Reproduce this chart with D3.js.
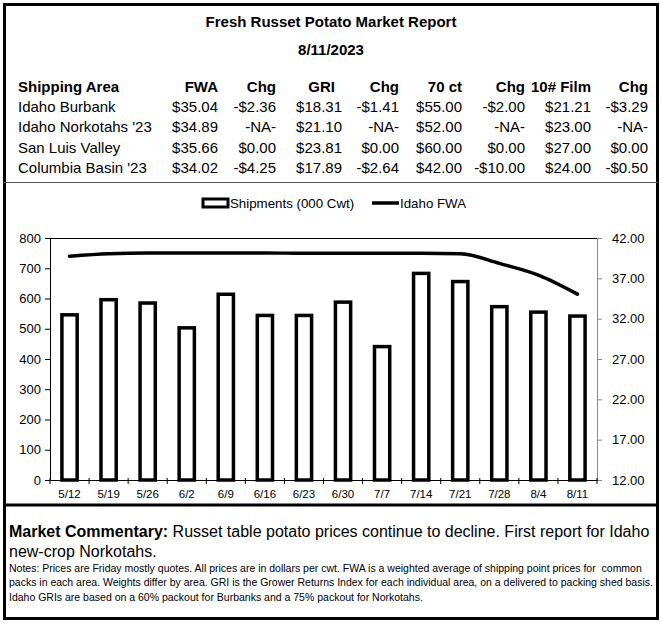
<!DOCTYPE html>
<html>
<head>
<meta charset="utf-8">
<script src="https://cdn.jsdelivr.net/npm/d3@7"></script>
<style>
  body { margin: 0; background: #fff; }
  svg { display: block; font-family: "Liberation Sans", Arial, sans-serif; }
  .notes { white-space: pre; }
</style>
</head>
<body>
<svg id="chart" width="662" height="623"></svg>
<script>
const svg = d3.select("#chart");

// --- table data ---
const headers = ["Shipping Area", "FWA", "Chg", "GRI", "Chg", "70 ct", "Chg", "10# Film", "Chg"];
const areas = ["Idaho Burbank", "Idaho Norkotahs '23", "San Luis Valley", "Columbia Basin '23"];
const fwa = ["$35.04", "$34.89", "$35.66", "$34.02"];
const fwaChg = ["-$2.36", "-NA-", "$0.00", "-$4.25"];
const gri = ["$18.31", "$21.10", "$23.81", "$17.89"];
const griChg = ["-$1.41", "-NA-", "$0.00", "-$2.64"];
const ct70 = ["$55.00", "$52.00", "$60.00", "$42.00"];
const ct70Chg = ["-$2.00", "-NA-", "$0.00", "-$10.00"];
const film = ["$21.21", "$23.00", "$27.00", "$24.00"];
const filmChg = ["-$3.29", "-NA-", "$0.00", "-$0.50"];

// --- chart data ---
const weeks = ["5/12","5/19","5/26","6/2","6/9","6/16","6/23","6/30","7/7","7/14","7/21","7/28","8/4","8/11"];
const shipments = [546, 596, 585, 503, 614, 544, 544, 588, 441, 683, 656, 573, 555, 542];
const idahoFWA = [39.75, 40.05, 40.15, 40.15, 40.15, 40.15, 40.1, 40.1, 40.1, 40.1, 40.05, 38.85, 37.40, 35.04];
const leftTicks = [0, 100, 200, 300, 400, 500, 600, 700, 800];
const rightTicks = [12, 17, 22, 27, 32, 37, 42];

const commentaryLead = "Market Commentary:";
const commentary = [" Russet table potato prices continue to decline. First report for Idaho", "new-crop Norkotahs."];
const notes = [
  "Notes: Prices are Friday mostly quotes. All prices are in dollars per cwt. FWA is a weighted average of shipping point prices for  common",
  "packs in each area. Weights differ by area. GRI is the Grower Returns Index for each individual area, on a delivered to packing shed basis.",
  "Idaho GRIs are based on a 60% packout for Burbanks and a 75% packout for Norkotahs."
];

// --- frames ---
svg.append("rect").attr("x", 4.5).attr("y", 4.5).attr("width", 653).attr("height", 614)
  .attr("fill", "none").attr("stroke", "#000").attr("stroke-width", 3);
svg.append("line").attr("x1", 4).attr("x2", 658).attr("y1", 182.5).attr("y2", 182.5)
  .attr("stroke", "#555").attr("stroke-width", 1);
svg.append("line").attr("x1", 4).attr("x2", 658).attr("y1", 505).attr("y2", 505)
  .attr("stroke", "#000").attr("stroke-width", 3);

// --- title + table ---
svg.append("text").attr("x", 331).attr("y", 27).attr("text-anchor", "middle")
  .attr("font-size", 15).attr("font-weight", "bold").text("Fresh Russet Potato Market Report");
svg.append("text").attr("x", 331).attr("y", 55).attr("text-anchor", "middle")
  .attr("font-size", 15).attr("font-weight", "bold").text("8/11/2023");

const colRight = [null, 218, 276, 342, 399, 462, 525, 591, 648];
const headerRight = [null, 218, 276, 335, 399, 462, 525, 591, 648];
const columns = [areas, fwa, fwaChg, gri, griChg, ct70, ct70Chg, film, filmChg];
const rowY = [112, 132, 153, 173];

headers.forEach((h, i) => {
  svg.append("text")
    .attr("x", i === 0 ? 18 : headerRight[i]).attr("y", 92)
    .attr("text-anchor", i === 0 ? "start" : "end")
    .attr("font-size", 15).attr("font-weight", "bold").text(h);
});
columns.forEach((col, i) => {
  col.forEach((v, r) => {
    svg.append("text")
      .attr("x", i === 0 ? 18 : colRight[i]).attr("y", rowY[r])
      .attr("text-anchor", i === 0 ? "start" : "end")
      .attr("font-size", 15).text(v);
  });
});

// --- legend ---
svg.append("rect").attr("x", 203).attr("y", 199).attr("width", 25).attr("height", 8)
  .attr("fill", "#fff").attr("stroke", "#000").attr("stroke-width", 3);
svg.append("text").attr("x", 230).attr("y", 207.5).attr("font-size", 13.3).text("Shipments (000 Cwt)");
svg.append("line").attr("x1", 372).attr("x2", 399).attr("y1", 203).attr("y2", 203)
  .attr("stroke", "#000").attr("stroke-width", 3.5);
svg.append("text").attr("x", 400).attr("y", 207.5).attr("font-size", 13.3).text("Idaho FWA");

// --- chart ---
const plot = {left: 50, right: 597, top: 238, bottom: 480};
const x = d3.scaleBand().domain(weeks).range([plot.left, plot.right]).padding(0);
const yL = d3.scaleLinear().domain([0, 800]).range([plot.bottom, plot.top]);
const yR = d3.scaleLinear().domain([12, 42]).range([plot.bottom, plot.top]);

const g = svg.append("g");

// plot border: top black
g.append("line").attr("x1", plot.left).attr("x2", plot.right).attr("y1", plot.top + 0.5).attr("y2", plot.top + 0.5)
  .attr("stroke", "#000").attr("stroke-width", 1);

const barW = x.bandwidth() * 0.39;
g.selectAll("rect.bar").data(weeks).enter().append("rect")
  .attr("class", "bar")
  .attr("x", d => x(d) + x.bandwidth() / 2 - barW / 2)
  .attr("y", (d, i) => yL(shipments[i]))
  .attr("width", barW)
  .attr("height", (d, i) => yL(0) - yL(shipments[i]))
  .attr("fill", "#fff").attr("stroke", "#000").attr("stroke-width", 3.5);

const line = d3.line()
  .x((d, i) => x(weeks[i]) + x.bandwidth() / 2)
  .y(d => yR(d))
  .curve(d3.curveMonotoneX);
g.append("path").datum(idahoFWA).attr("d", line)
  .attr("fill", "none").attr("stroke", "#000").attr("stroke-width", 3.5).attr("stroke-linecap", "round");

const fontFam = "Liberation Sans, Arial, sans-serif";

// left axis
const axL = g.append("g").attr("transform", `translate(${plot.left},0)`)
  .call(d3.axisLeft(yL).tickValues(leftTicks).tickSize(5).tickPadding(4).tickSizeOuter(0));
axL.select(".domain").attr("stroke", "#000");
axL.selectAll("text").attr("font-size", 13).attr("font-family", fontFam).attr("fill", "#000");

// right axis
const axR = g.append("g").attr("transform", `translate(${plot.right},0)`)
  .call(d3.axisRight(yR).tickValues(rightTicks).tickFormat(d3.format(".2f")).tickSize(5).tickPadding(10).tickSizeOuter(0));
axR.select(".domain").attr("stroke", "#888");
axR.selectAll("line").attr("stroke", "#888");
axR.selectAll("text").attr("font-size", 13).attr("font-family", fontFam).attr("fill", "#000");

// bottom axis, ticks between categories
const axB = g.append("g").attr("transform", `translate(0,${plot.bottom})`)
  .call(d3.axisBottom(x).tickSize(0).tickPadding(10));
axB.select(".domain").attr("stroke", "#000");
axB.selectAll("text").attr("font-size", 11.5).attr("font-family", fontFam).attr("fill", "#000");
const bounds = weeks.map(d => x(d)).concat([plot.right]);
axB.selectAll("line.sep").data(bounds).enter().append("line")
  .attr("class", "sep")
  .attr("x1", d => d).attr("x2", d => d).attr("y1", -2).attr("y2", 4)
  .attr("stroke", "#000");

// --- commentary ---
const ct = svg.append("text").attr("x", 9).attr("y", 537).attr("font-size", 16);
ct.append("tspan").attr("font-weight", "bold").text(commentaryLead);
ct.append("tspan").text(commentary[0]);
svg.append("text").attr("x", 9).attr("y", 557).attr("font-size", 16).text(commentary[1]);

notes.forEach((t, i) => {
  svg.append("text").attr("class", "notes").attr("x", 9).attr("y", 572 + i * 14.3)
    .attr("font-size", 10.5).text(t);
});
</script>
</body>
</html>
